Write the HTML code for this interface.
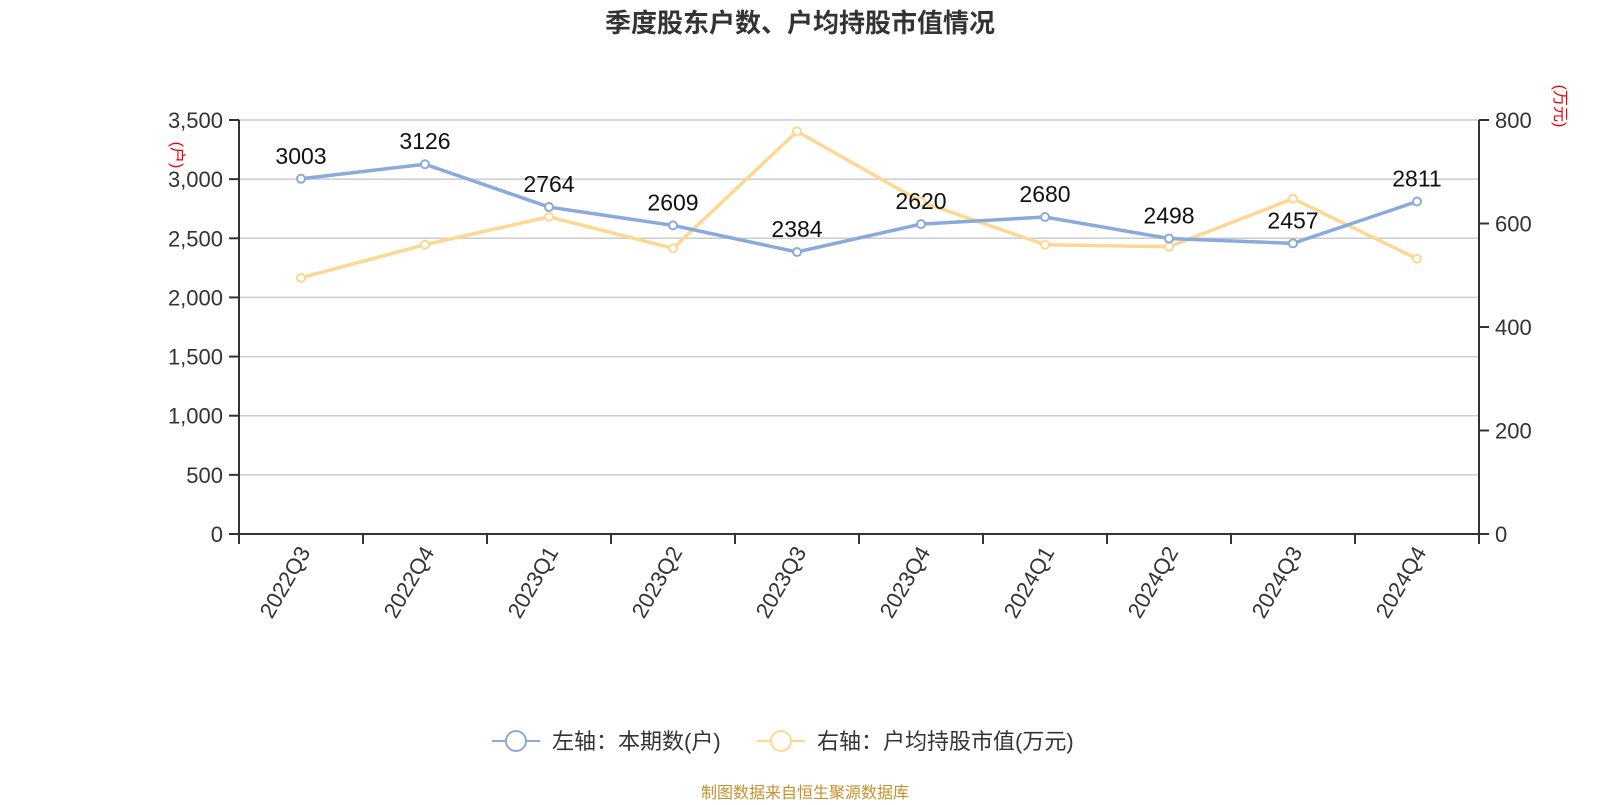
<!DOCTYPE html>
<html><head><meta charset="utf-8"><style>
body{margin:0;background:#fff;font-family:"Liberation Sans","Noto Sans CJK SC",sans-serif}
</style></head><body>
<svg id="c" width="1600" height="800" xmlns="http://www.w3.org/2000/svg" font-family="Liberation Sans, Noto Sans CJK SC, sans-serif"></svg>
<script>
const categories=["2022Q3","2022Q4","2023Q1","2023Q2","2023Q3","2023Q4","2024Q1","2024Q2","2024Q3","2024Q4"];
const holders=[3003,3126,2764,2609,2384,2620,2680,2498,2457,2811];
const avgValue=[495,559,613,552,778,642,559,555,648,532];
const leftTicks=[0,500,1000,1500,2000,2500,3000,3500];
const rightTicks=[0,200,400,600,800];
const svg=document.getElementById('c');const NS="http://www.w3.org/2000/svg";
const L=239,R=1479,T=120,B=534;
const band=(R-L)/categories.length;
const x=i=>L+band*(i+0.5);
const yL=v=>B-(v/3500)*(B-T);
const yR=v=>B-(v/800)*(B-T);
function el(t,a,txt){const e=document.createElementNS(NS,t);for(const k in a)e.setAttribute(k,a[k]);if(txt!=null)e.textContent=txt;svg.appendChild(e);return e;}
let e;
e=el('text',{x:800,y:32,'text-anchor':'middle','font-size':26,'font-weight':'bold',fill:'#333'},'季度股东户数、户均持股市值情况');

leftTicks.forEach(v=>{
 if(v>0){e=el('line',{x1:L,x2:R,y1:yL(v),y2:yL(v),stroke:'#ccc','stroke-width':1.5});
 }
 e=el('line',{x1:L-10,x2:L,y1:yL(v),y2:yL(v),stroke:'#333','stroke-width':2});
 
 e=el('text',{x:L-16,y:yL(v)+8,'text-anchor':'end','font-size':22,fill:'#333'},v.toLocaleString('en-US'));
 
});
rightTicks.forEach(v=>{
 e=el('line',{x1:R,x2:R+10,y1:yR(v),y2:yR(v),stroke:'#333','stroke-width':2});
 
 e=el('text',{x:R+16,y:yR(v)+8,'font-size':22,fill:'#333'},String(v));
 
});
e=el('line',{x1:L,x2:L,y1:T,y2:B,stroke:'#333','stroke-width':2});
e=el('line',{x1:R,x2:R,y1:T,y2:B+10,stroke:'#333','stroke-width':2});
e=el('line',{x1:L,x2:R,y1:B,y2:B,stroke:'#333','stroke-width':2});
for(let i=0;i<=categories.length;i++){e=el('line',{x1:L+band*i,x2:L+band*i,y1:B,y2:B+10,stroke:'#333','stroke-width':2});}
categories.forEach((c,i)=>{const tx=x(i)+10,ty=B+18;
 e=el('text',{x:tx,y:ty,'text-anchor':'end','font-size':22,fill:'#333',transform:`rotate(-60 ${tx} ${ty})`},c);
 });
e=el('text',{x:0,y:0,'font-size':16,fill:'#e00',transform:`translate(172,155) rotate(90)`,'text-anchor':'middle'},'(户)');
e=el('text',{x:0,y:0,'font-size':16,fill:'#e00',transform:`translate(1555,106) rotate(90)`,'text-anchor':'middle'},'(万元)');
function series(vals,yf,color,name){
 e=el('polyline',{points:vals.map((v,i)=>x(i)+','+yf(v)).join(' '),fill:'none',stroke:color,'stroke-width':3.5});
 
 vals.forEach((v,i)=>{e=el('circle',{cx:x(i),cy:yf(v),r:4,fill:'#fff',stroke:color,'stroke-width':2});
 });
}
series(avgValue,yR,'#fcd893','avg-value');
series(holders,yL,'#8aaadb','holders');
holders.forEach((v,i)=>{e=el('text',{x:x(i),y:yL(v)-15,'text-anchor':'middle','font-size':23,fill:'#111'},String(v));
 });
e=el('line',{x1:492,x2:540,y1:741,y2:741,stroke:'#8aaadb','stroke-width':2});
e=el('circle',{cx:516,cy:741,r:10,fill:'#fff',stroke:'#8aaadb','stroke-width':2});
e=el('text',{x:552,y:749,'font-size':22,fill:'#333'},'左轴：本期数(户)');
e=el('line',{x1:757,x2:805,y1:741,y2:741,stroke:'#fcd893','stroke-width':2});
e=el('circle',{cx:781,cy:741,r:10,fill:'#fff',stroke:'#fcd893','stroke-width':2});
e=el('text',{x:817,y:749,'font-size':22,fill:'#333'},'右轴：户均持股市值(万元)');
e=el('text',{x:805,y:798,'text-anchor':'middle','font-size':16,fill:'#c8902a'},'制图数据来自恒生聚源数据库');
</script>
</body></html>
